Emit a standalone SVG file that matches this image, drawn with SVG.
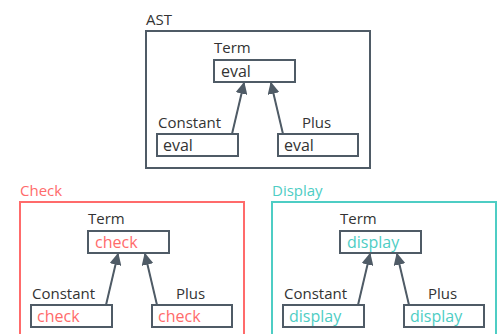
<svg xmlns="http://www.w3.org/2000/svg" width="502" height="334" viewBox="0 0 502 334">
<style>
text{font-family:"Open Sans","Noto Sans",sans-serif;font-size:15px;fill:#333}
.in{font-size:16px}
.box{fill:#fff;stroke:#4f5b66;stroke-width:2}
.frame{fill:none;stroke-width:2}
.ast{stroke:#4f5b66}
.chk{stroke:#ff6b6b}
.dsp{stroke:#4ecdc4}
.tchk{fill:#ff6b6b}
.tdsp{fill:#4ecdc4}
.edge{stroke:#4f5b66;stroke-width:2;fill:none;marker-end:url(#ah)}
</style>
<defs>
<marker id="ah" viewBox="0 0 10 10" refX="9" refY="5" markerWidth="6" markerHeight="6" orient="auto" markerUnits="strokeWidth">
<path d="M0,0 L10,5 L0,10 z" fill="#4f5b66"/>
</marker>
</defs>
<g id="ast">
<text x="146" y="25">AST</text>
<rect class="frame ast" x="146" y="31" width="224" height="137"/>
</g>
<g id="ast-term"><text x="214" y="53">Term</text><rect class="box" x="214" y="60" width="81" height="22"/><text x="221" y="77" class="in">eval</text></g>
<g id="ast-constant"><text x="158" y="128">Constant</text><rect class="box" x="157" y="134" width="81" height="22"/><text x="163" y="151" class="in">eval</text></g>
<g id="ast-plus"><text x="302" y="128">Plus</text><rect class="box" x="278" y="134" width="80" height="22"/><text x="284" y="151" class="in">eval</text></g>

<g id="check">
<text x="20" y="196" class="tchk">Check</text>
<rect class="frame chk" x="20" y="202" width="224" height="137"/>
</g>
<g id="check-term"><text x="88" y="224">Term</text><rect class="box" x="88" y="231" width="81" height="22"/><text x="95" y="248" class="in tchk">check</text></g>
<g id="check-constant"><text x="32" y="299">Constant</text><rect class="box" x="31" y="305" width="81" height="22"/><text x="37" y="322" class="in tchk">check</text></g>
<g id="check-plus"><text x="176" y="299">Plus</text><rect class="box" x="152" y="305" width="80" height="22"/><text x="158" y="322" class="in tchk">check</text></g>

<g id="display">
<text x="272" y="196" class="tdsp">Display</text>
<rect class="frame dsp" x="272" y="202" width="224" height="137"/>
</g>
<g id="display-term"><text x="340" y="224">Term</text><rect class="box" x="340" y="231" width="81" height="22"/><text x="347" y="248" class="in tdsp">display</text></g>
<g id="display-constant"><text x="284" y="299">Constant</text><rect class="box" x="283" y="305" width="81" height="22"/><text x="289" y="322" class="in tdsp">display</text></g>
<g id="display-plus"><text x="428" y="299">Plus</text><rect class="box" x="404" y="305" width="80" height="22"/><text x="410" y="322" class="in tdsp">display</text></g>

<g id="connectors">
<line class="edge" x1="232" y1="134" x2="244" y2="83"/>
<line class="edge" x1="283" y1="134" x2="271" y2="83"/>
<line class="edge" x1="106" y1="305" x2="118" y2="254"/>
<line class="edge" x1="157" y1="305" x2="145" y2="254"/>
<line class="edge" x1="358" y1="305" x2="370" y2="254"/>
<line class="edge" x1="409" y1="305" x2="397" y2="254"/>
</g>
</svg>
